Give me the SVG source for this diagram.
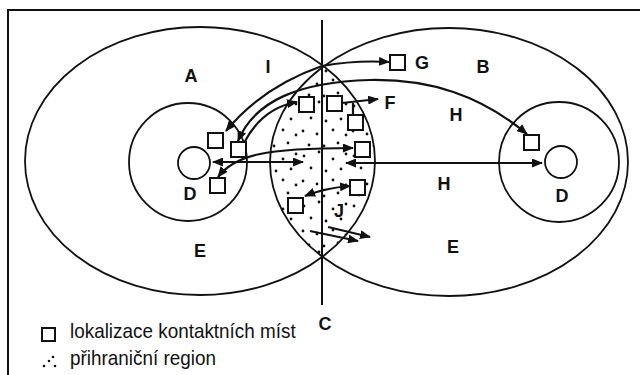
<svg xmlns="http://www.w3.org/2000/svg" width="640" height="375" viewBox="0 0 640 375">
<style>
.ol{fill:none;stroke:#111;stroke-width:1.8}
.cn{fill:none;stroke:#111;stroke-width:2.2}
.bx{fill:#fff;stroke:#111;stroke-width:2}
.lb{font-family:"Liberation Sans",Arial,sans-serif;font-weight:bold;font-size:18px;fill:#111;text-anchor:middle}
.lg{font-family:"Liberation Sans",Arial,sans-serif;font-size:21px;fill:#111}
</style>
<defs>
<marker id="ah" markerUnits="userSpaceOnUse" markerWidth="11" markerHeight="9" viewBox="0 0 11 9" refX="10" refY="4.5" orient="auto-start-reverse"><path d="M0,0 L11,4.5 L0,9 z" fill="#111"/></marker>
<pattern id="dots" patternUnits="userSpaceOnUse" width="50" height="50"><g fill="#111"><circle cx="4" cy="6" r="1.4"/><circle cx="19" cy="2" r="1.4"/><circle cx="33" cy="9" r="1.4"/><circle cx="46" cy="4" r="1.4"/><circle cx="11" cy="18" r="1.4"/><circle cx="26" cy="21" r="1.4"/><circle cx="41" cy="19" r="1.4"/><circle cx="3" cy="31" r="1.4"/><circle cx="17" cy="34" r="1.4"/><circle cx="33" cy="30" r="1.4"/><circle cx="46" cy="35" r="1.4"/><circle cx="9" cy="45" r="1.4"/><circle cx="24" cy="46" r="1.4"/><circle cx="38" cy="43" r="1.4"/></g></pattern>
<clipPath id="clipA"><ellipse cx="200" cy="161" rx="175" ry="134"/></clipPath>
<clipPath id="clipB"><ellipse cx="449" cy="162" rx="179" ry="134"/></clipPath>
</defs>
<rect x="0" y="0" width="640" height="375" fill="#fff"/>
<rect x="8" y="10" width="660" height="400" fill="none" stroke="#111" stroke-width="2"/>
<g id="region-lens" clip-path="url(#clipA)"><rect x="260" y="55" width="130" height="210" fill="url(#dots)" clip-path="url(#clipB)"/></g>
<g id="region-A"><ellipse class="ol" cx="200" cy="161" rx="175" ry="134"/></g>
<g id="region-B"><ellipse class="ol" cx="449" cy="162" rx="179" ry="134"/></g>
<g id="inner-left"><circle class="ol" cx="188" cy="162" r="59"/><circle class="ol" cx="194" cy="163" r="16"/></g>
<g id="inner-right"><circle class="ol" cx="559" cy="162" r="60"/><circle class="ol" cx="561" cy="162" r="16"/></g>
<g id="border-C"><line x1="322" y1="20" x2="322" y2="305" stroke="#111" stroke-width="2"/></g>
<g id="connectors">
<path class="cn" d="M322,66 Q262,87 226,131" marker-end="url(#ah)"/>
<path class="cn" d="M322,66 Q355,60 389,62" marker-end="url(#ah)"/>
<path class="cn" d="M238,141 C255,100 300,82 370,80 C430,79 480,95 527,134" marker-start="url(#ah)" marker-end="url(#ah)"/>
<path class="cn" d="M244,143 Q262,108 297,102" marker-end="url(#ah)"/>
<path class="cn" d="M213,162 L303,162" marker-start="url(#ah)" marker-end="url(#ah)"/>
<path class="cn" d="M218,177 C235,155 265,148 353,148" marker-start="url(#ah)" marker-end="url(#ah)"/>
<path class="cn" d="M346,163 L542,163" marker-start="url(#ah)" marker-end="url(#ah)"/>
<path class="cn" d="M305,196 Q325,188 350,186" marker-start="url(#ah)" marker-end="url(#ah)"/>
<path class="cn" d="M310,231 L358,241" marker-end="url(#ah)"/>
<path class="cn" d="M328,227 L370,237" marker-end="url(#ah)"/>
<path class="cn" d="M342,103 L378,99" marker-end="url(#ah)"/>
<path class="cn" d="M353,103 L353,115"/>
</g>
<g id="b1"><rect class="bx" x="208" y="133" width="15" height="15"/></g>
<g id="b2"><rect class="bx" x="231" y="142" width="15" height="15"/></g>
<g id="b3"><rect class="bx" x="210" y="178" width="15" height="15"/></g>
<g id="b4"><rect class="bx" x="299" y="97" width="15" height="15"/></g>
<g id="b5"><rect class="bx" x="327" y="96" width="15" height="15"/></g>
<g id="b6"><rect class="bx" x="348" y="115" width="15" height="15"/></g>
<g id="b7"><rect class="bx" x="355" y="142" width="15" height="15"/></g>
<g id="b8"><rect class="bx" x="350" y="180" width="15" height="15"/></g>
<g id="b9"><rect class="bx" x="288" y="198" width="15" height="15"/></g>
<g id="bG"><rect class="bx" x="390" y="55" width="15" height="15"/></g>
<g id="bH"><rect class="bx" x="524" y="135" width="15" height="15"/></g>
<g id="labels">
<text class="lb" x="191" y="82">A</text>
<text class="lb" x="268" y="73">I</text>
<text class="lb" x="483" y="73">B</text>
<text class="lb" x="422" y="69">G</text>
<text class="lb" x="390" y="109">F</text>
<text class="lb" x="456" y="121">H</text>
<text class="lb" x="444" y="190">H</text>
<text class="lb" x="190" y="200">D</text>
<text class="lb" x="562" y="202">D</text>
<text class="lb" x="200" y="257">E</text>
<text class="lb" x="453" y="253">E</text>
<text class="lb" x="339" y="217">J</text>
<text class="lb" x="325" y="330">C</text>
</g>
<g id="legend">
<rect class="bx" x="42" y="328" width="13" height="13"/>
<text class="lg" transform="translate(70,338) scale(0.9,1)">lokalizace kontaktních míst</text>
<g fill="#111"><circle cx="44" cy="366" r="1.3"/><circle cx="49" cy="361" r="1.3"/><circle cx="53" cy="357" r="1.3"/><circle cx="55" cy="366" r="1.3"/></g>
<text class="lg" transform="translate(70,365) scale(0.9,1)">přihraniční region</text>
</g>
</svg>
